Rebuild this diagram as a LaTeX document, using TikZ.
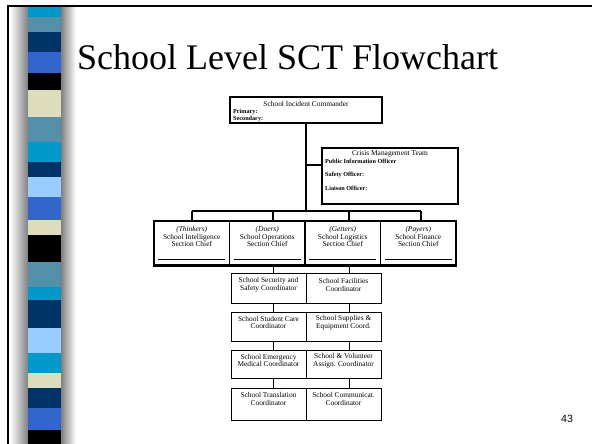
\documentclass[tikz,border=0pt]{standalone}
\usepackage{fontspec}
\setmainfont{Liberation Serif}
\newfontfamily\numfont{Liberation Sans}
\definecolor{stcyan}{HTML}{0099CC}
\definecolor{ststeel}{HTML}{5590AA}
\definecolor{stnavy}{HTML}{003366}
\definecolor{stroyal}{HTML}{3366CC}
\definecolor{stbeige}{HTML}{DDDDBB}
\definecolor{stlight}{HTML}{99CCFF}
\begin{document}
\begin{tikzpicture}[x=1pt,y=-1pt,
  box/.style={draw, line width=1.2pt, inner sep=0pt, fill=white, rectangle},
  cbox/.style={draw, line width=0.9pt, inner sep=0pt, rectangle},
  lbl/.style={font=\fontsize{7.4}{7.8}\selectfont, inner sep=0pt, align=center},
  small/.style={font=\fontsize{6.2}{7}\selectfont\bfseries, inner sep=0pt, anchor=west},
  conn/.style={line width=1.3pt},
  cconn/.style={line width=0.8pt}]
\useasboundingbox (0,0) rectangle (592,444);
\fill[white] (0,0) rectangle (592,444);
% side shading
\shade[left color=white, right color=black!50] (10,6) rectangle (28,444);
\shade[left color=black!50, right color=white] (61,6) rectangle (76,444);
% stripes
\foreach \ya/\yb/\c in {6/17/stcyan, 17/32/ststeel, 32/52/stnavy, 52/73/stroyal, 73/90/black,
  90/117/stbeige, 117/142/ststeel, 142/162/stcyan, 162/177/stnavy, 177/197/stlight,
  197/220/stroyal, 220/235/stbeige, 235/262/black, 262/287/ststeel, 287/300/stcyan,
  300/328/stnavy, 328/353/stlight, 353/373/stcyan, 373/388/stbeige, 388/408/stnavy,
  408/430/stroyal, 430/444/black}
  \fill[\c] (28,\ya) rectangle (61,\yb);
% frame
\draw[line width=2pt] (8,444) -- (8,6) -- (592,6);
% title
\node[anchor=base west, inner sep=0pt, font=\fontsize{36}{40}\selectfont] (title) at (77,70) {School Level SCT Flowchart};
\node[inner sep=0pt, font=\numfont\fontsize{10.5}{12}\selectfont] (pg) at (567,419) {43};

% commander
\node[box, minimum width=152pt, minimum height=26pt] (cmd) at (306,110) {};
\node[lbl] (cmdt) at (306,104) {School Incident Commander};
\node[small] (prim) at (233,112) {Primary:};
\node[small] (sec) at (233,119.5) {Secondary:};

% crisis team
\node[box, minimum width=136pt, minimum height=56pt] (cmt) at (390,176) {};
\node[lbl] (cmtt) at (390,154) {Crisis Management Team};
\node[small] (pio) at (325,161) {Public Information Officer};
\node[small] (so) at (325,174.5) {Safety Officer:};
\node[small] (lo) at (325,188) {Liaison Officer:};

% sections
\foreach \n/\cx in {1/191.75, 2/267.25, 3/342.75, 4/418.25}
  \node[box, minimum width=75.5pt, minimum height=44pt] (s\n) at (\cx,243) {};
\draw[line width=2pt] (s1.south west) -- (s4.south east);
\foreach \n in {1,2,3,4}
  \draw[line width=0.8pt] ([xshift=5pt,yshift=6pt]s\n.south west) -- ([xshift=-5pt,yshift=6pt]s\n.south east);
\node[lbl] (t1) at (s1.center |- 0,236.5) {\textit{(Thinkers)}\\School Intelligence\\Section Chief};
\node[lbl] (t2) at (s2.center |- 0,236.5) {\textit{(Doers)}\\School Operations\\Section Chief};
\node[lbl] (t3) at (s3.center |- 0,236.5) {\textit{(Getters)}\\School Logistics\\Section Chief};
\node[lbl] (t4) at (s4.center |- 0,236.5) {\textit{(Payers)}\\School Finance\\Section Chief};

% connectors top
\coordinate (tee) at (306,165);
\coordinate (bar) at (306,211);
\coordinate (d1) at (192,211);
\coordinate (d2) at (273,211);
\coordinate (d3) at (349,211);
\coordinate (d4) at (421,211);
\draw[conn] (cmd.south) -- (bar);
\draw[conn] (tee) -- (tee -| cmt.west);
\draw[conn] (d1) -- (d4);
\foreach \n in {1,2,3,4} \draw[conn] (d\n) -- (d\n |- s\n.north);

% coordinators
\foreach \r/\cy/\h in {1/288/30, 2/326.5/29, 3/364/28, 4/404/32}{
  \node[cbox, minimum width=75pt, minimum height=\h pt] (a\r) at (268.5,\cy) {};
  \node[cbox, minimum width=75pt, minimum height=\h pt] (b\r) at (343.5,\cy) {};
}
\draw[line width=1.4pt] (a1.south west) -- (b1.south east);
\draw[line width=1.4pt] (a2.south west) -- (b2.south east);
\draw[line width=1.4pt] (a3.south west) -- (b3.south east);
\draw[line width=1.4pt] (a4.south west) -- (b4.south east);
\node[lbl] (ta1) at (a1.center |- 0,285) {School Security and\\Safety Coordinator};
\node[lbl] (tb1) at (b1.center |- 0,285) {School Facilities\\Coordinator};
\node[lbl] (ta2) at (a2.center |- 0,322.5) {School Student Care\\Coordinator};
\node[lbl] (tb2) at (b2.center |- 0,322.5) {School Supplies \&\\Equipment Coord.};
\node[lbl] (ta3) at (a3.center |- 0,360.5) {School Emergency\\Medical Coordinator};
\node[lbl] (tb3) at (b3.center |- 0,360.5) {School \& Volunteer\\Assign. Coordinator};
\node[lbl] (ta4) at (a4.center |- 0,399) {School Translation\\Coordinator};
\node[lbl] (tb4) at (b4.center |- 0,399) {School Communicat.\\Coordinator};

\coordinate (xa) at (273,0);
\coordinate (xb) at (349,0);
\draw[cconn] (xa |- s2.south) -- (xa |- a1.north);
\draw[cconn] (xb |- s3.south) -- (xb |- b1.north);
\draw[cconn] (xa |- a1.south) -- (xa |- a2.north);
\draw[cconn] (xb |- b1.south) -- (xb |- b2.north);
\draw[cconn] (xa |- a2.south) -- (xa |- a3.north);
\draw[cconn] (xb |- b2.south) -- (xb |- b3.north);
\draw[cconn] (xa |- a3.south) -- (xa |- a4.north);
\draw[cconn] (xb |- b3.south) -- (xb |- b4.north);
\end{tikzpicture}
\end{document}
